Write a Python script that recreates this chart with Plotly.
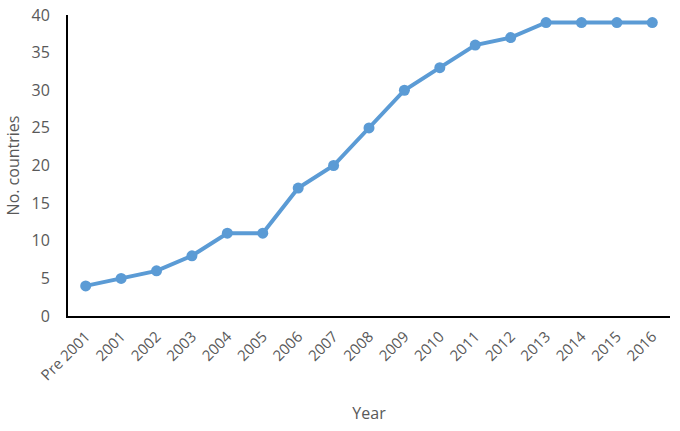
import plotly.graph_objects as go

categories = ["Pre 2001", "2001", "2002", "2003", "2004", "2005", "2006", "2007",
              "2008", "2009", "2010", "2011", "2012", "2013", "2014", "2015", "2016"]
countries = [4, 5, 6, 8, 11, 11, 17, 20, 25, 30, 33, 36, 37, 39, 39, 39, 39]
y_ticks = [0, 5, 10, 15, 20, 25, 30, 35, 40]

fig = go.Figure(go.Scatter(
    x=categories, y=countries, mode="lines+markers",
    line=dict(color="#5B9BD5", width=4),
    marker=dict(color="#5B9BD5", size=11),
))

font_family = "Open Sans, Noto Sans, sans-serif"
fig.update_layout(
    width=680, height=431,
    margin=dict(l=68, r=10, t=15, b=115),
    paper_bgcolor="white", plot_bgcolor="white",
    showlegend=False,
    font=dict(family=font_family, color="#595959", size=15),
    xaxis=dict(
        type="category", range=[-0.5, len(categories) - 0.5],
        showgrid=False, showline=True, linecolor="black", linewidth=2,
        tickangle=-45, ticks="", tickfont=dict(size=15, color="#595959"),
        title=dict(text="Year", font=dict(size=16, color="#595959"), standoff=24),
        automargin=False, ticklabelstandoff=4,
    ),
    yaxis=dict(
        range=[0, 40], tickvals=y_ticks, showgrid=False, showline=True,
        linecolor="black", linewidth=2, ticks="", zeroline=False,
        tickfont=dict(size=16, color="#595959"), ticklabelstandoff=13,
        ticklabeloverflow="allow",
        title=dict(text="No. countries", font=dict(size=16, color="#595959"), standoff=8),
        automargin=False,
    ),
)

# remove the browser's default 8px body margin so the figure fills the window
fig.write_html(
    "out.html",
    config={"displayModeBar": False},
    post_script="document.body.style.margin='0px';",
)
